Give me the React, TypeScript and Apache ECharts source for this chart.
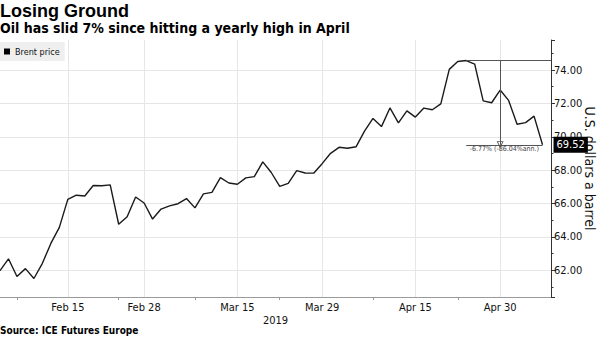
import React, { useEffect, useRef } from "react";
import * as echarts from "echarts";

const dates = [
  "Feb 5", "Feb 6", "Feb 7", "Feb 8", "Feb 11", "Feb 12", "Feb 13", "Feb 14", "Feb 15",
  "Feb 18", "Feb 19", "Feb 20", "Feb 21", "Feb 22", "Feb 25", "Feb 26", "Feb 27", "Feb 28",
  "Mar 1", "Mar 4", "Mar 5", "Mar 6", "Mar 7", "Mar 8", "Mar 11", "Mar 12", "Mar 13", "Mar 14", "Mar 15",
  "Mar 18", "Mar 19", "Mar 20", "Mar 21", "Mar 22", "Mar 25", "Mar 26", "Mar 27", "Mar 28", "Mar 29",
  "Apr 1", "Apr 2", "Apr 3", "Apr 4", "Apr 5", "Apr 8", "Apr 9", "Apr 10", "Apr 11", "Apr 12",
  "Apr 15", "Apr 16", "Apr 17", "Apr 18", "Apr 22", "Apr 23", "Apr 24", "Apr 25", "Apr 26",
  "Apr 29", "Apr 30", "May 1", "May 2", "May 3", "May 6", "May 7",
];

const brent = [
  61.98, 62.69, 61.63, 62.10, 61.51, 62.42, 63.61, 64.57, 66.25,
  66.50, 66.45, 67.08, 67.07, 67.12, 64.76, 65.21, 66.39, 66.03,
  65.07, 65.67, 65.86, 65.99, 66.30, 65.74, 66.58, 66.67, 67.55, 67.23, 67.16,
  67.54, 67.61, 68.50, 67.86, 67.03, 67.21, 67.97, 67.83, 67.82, 68.39,
  69.01, 69.37, 69.31, 69.40, 70.34, 71.10, 70.61, 71.73, 70.83, 71.55,
  71.18, 71.72, 71.62, 71.97, 74.04, 74.51, 74.57, 74.35, 72.15,
  72.04, 72.80, 72.18, 70.75, 70.85, 71.24, 69.52,
];

const tickLabels = ["Feb 15", "Feb 28", "Mar 15", "Mar 29", "Apr 15", "Apr 30"];
const tickMarks = ["Feb 7", "Feb 25", "Mar 8", "Mar 22", "Apr 8", "Apr 23"];
const peakDay = new Date(2019, 3, 24);
const lastDay = new Date(2019, 4, 7);

const COND = '"DejaVu Sans Condensed", "DejaVu Sans", sans-serif';

export default function App() {
  const ref = useRef<HTMLDivElement>(null);
  useEffect(() => {
    if (!ref.current) return;
    const chart = echarts.init(ref.current, undefined, { renderer: "svg" });
    const peak = Math.max(...brent);
    const peakIdx = brent.indexOf(peak);
    const lastIdx = brent.length - 1;
    const last = brent[lastIdx];
    const pct = last / peak - 1;
    const days = Math.round((lastDay.getTime() - peakDay.getTime()) / 86400000);
    const ann = Math.pow(1 + pct, 365 / days) - 1;
    const annText = `${(pct * 100).toFixed(2)}% (${(ann * 100).toFixed(2)}%ann.)`;
    const cats = [...dates, ""];
    const midIdx = Math.round((peakIdx + lastIdx) / 2 - 0.5);

    chart.setOption({
      animation: false,
      backgroundColor: "#fff",
      legend: {
        left: 0,
        top: 42,
        icon: "rect",
        itemWidth: 6,
        itemHeight: 6,
        backgroundColor: "#efefef",
        padding: [5, 5, 5, 4],
        textStyle: { fontSize: 9, color: "#111", fontFamily: COND },
        data: ["Brent price"],
      },
      grid: { left: 0, right: 50, top: 40, bottom: 40, containLabel: false, outerBoundsMode: "none" },
      xAxis: {
        type: "category",
        data: cats,
        boundaryGap: false,
        axisLine: { lineStyle: { color: "#9a9a9a" } },
        axisTick: {
          show: true,
          interval: (i: number, v: string) => tickMarks.includes(v),
          length: 3,
          lineStyle: { color: "#9a9a9a" },
        },
        axisLabel: {
          interval: (i: number, v: string) => tickLabels.includes(v),
          color: "#111",
          fontSize: 11,
          fontFamily: COND,
          margin: 5,
        },
        splitLine: {
          show: true,
          interval: (i: number, v: string) => tickLabels.includes(v),
          lineStyle: { color: "#e6e6e6" },
        },
        name: "2019",
        nameLocation: "middle",
        nameGap: 18,
        nameMoveOverlap: false,
        nameTextStyle: { color: "#111", fontSize: 11, fontFamily: COND },
      },
      yAxis: {
        type: "value",
        position: "right",
        min: 60.4,
        max: 75.8,
        splitNumber: 8,
        axisLine: { show: true, lineStyle: { color: "#333" } },
        axisTick: { show: true, length: 4, lineStyle: { color: "#333" } },
        minorTick: { show: true, splitNumber: 2, length: 2.5, lineStyle: { color: "#333" } },
        axisLabel: {
          formatter: (v: number) => v.toFixed(2),
          showMinLabel: false,
          showMaxLabel: false,
          margin: 3,
          color: "#111",
          fontSize: 11,
          fontFamily: COND,
        },
        splitLine: { show: true, showMinLine: false, showMaxLine: false, lineStyle: { color: "#e6e6e6" } },
        name: "U.S. dollars a barrel",
        nameLocation: "middle",
        nameRotate: -90,
        nameGap: 32,
        nameMoveOverlap: false,
        nameTextStyle: { color: "#111", fontSize: 14, fontFamily: COND },
      },
      series: [
        {
          name: "Brent price",
          type: "line",
          data: brent,
          symbol: "none",
          showSymbol: false,
          color: "#000",
          lineStyle: { color: "#1a1a1a", width: 1.4 },
          endLabel: {
            show: true,
            formatter: (p: any) => Number(p.value).toFixed(2),
            color: "#fff",
            backgroundColor: "#000",
            padding: [3, 3, 2, 3],
            fontSize: 11,
            fontFamily: COND,
            distance: 11,
          },
          markLine: {
            silent: true,
            symbol: ["none", "none"],
            lineStyle: { color: "#555", width: 1, type: "solid" },
            label: { show: false },
            emphasis: { disabled: true },
            data: [
              [{ coord: [peakIdx, peak] }, { coord: [cats.length - 1, peak] }],
              [
                {
                  coord: [peakIdx, last],
                  label: {
                    show: true,
                    position: "insideMiddleBottom",
                    formatter: annText,
                    fontSize: 7,
                    color: "#444",
                    fontFamily: COND,
                    distance: 1,
                  },
                },
                { coord: [lastIdx, last] },
              ],
              [
                { coord: [midIdx, peak], symbol: "none" },
                {
                  coord: [midIdx, last],
                  symbol: "path://M5,0 L10,10 L0,10 Z M5,3 L2,9 L8,9 Z",
                  symbolSize: [7, 7],
                },
              ],
            ],
          },
        },
      ],
      graphic: [
        {
          type: "text",
          left: 0,
          top: 2,
          style: { text: "Losing Ground", font: 'bold 18px "Liberation Sans", Arial, sans-serif', fill: "#000" },
        },
        {
          type: "text",
          left: 0,
          top: 21,
          style: { text: "Oil has slid 7% since hitting a yearly high in April", font: `bold 14px ${COND}`, fill: "#000" },
        },
        {
          type: "text",
          left: 0,
          top: 325,
          style: { text: "Source: ICE Futures Europe", font: `bold 10px ${COND}`, fill: "#000" },
        },
      ],
    });
    return () => chart.dispose();
  }, []);
  return <div ref={ref} style={{ position: "absolute", left: 0, top: 0, width: 601, height: 337, background: "#fff" }} />;
}
